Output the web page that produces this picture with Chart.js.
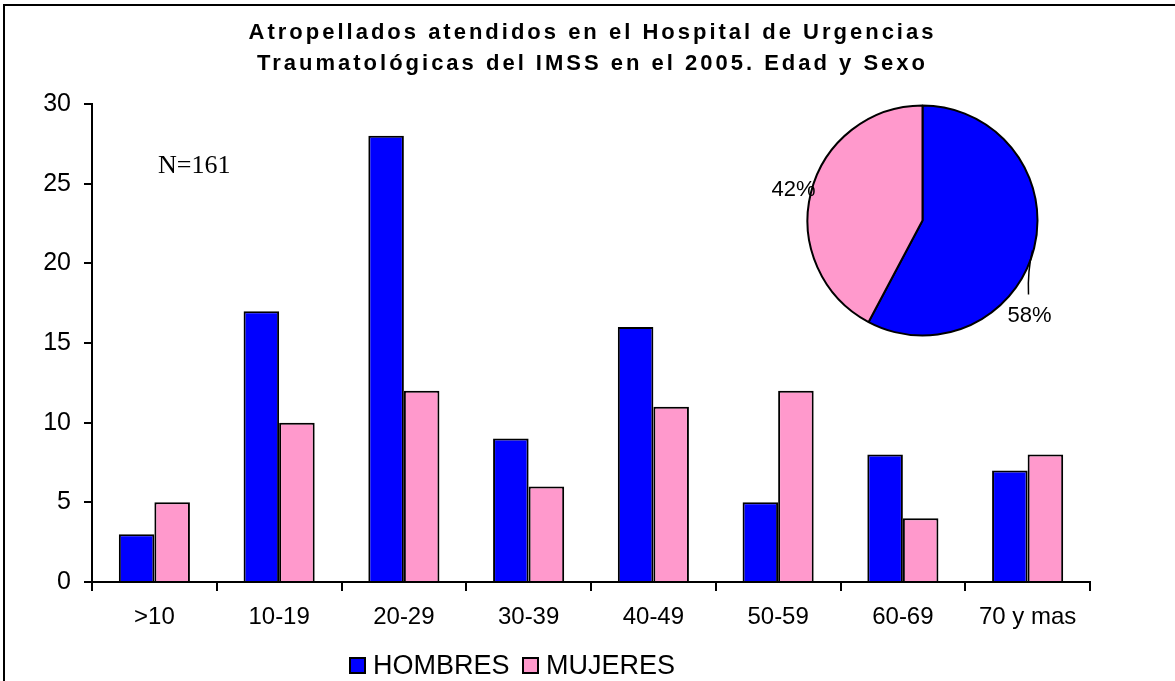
<!DOCTYPE html>
<html><head><meta charset="utf-8">
<script src="https://cdn.jsdelivr.net/npm/chart.js@4.4.1/dist/chart.umd.min.js"></script>
<style>
html,body{margin:0;padding:0;background:#fff;overflow:hidden}
#wrap{position:relative;width:1175px;height:681px}
#bar{position:absolute;left:0;top:0}
#pie{position:absolute;left:760px;top:90px}
</style></head><body>
<div id="wrap"><canvas id="bar" width="1175" height="681"></canvas><canvas id="pie" width="330" height="270"></canvas></div>
<script>
const titleLines = ['Atropellados atendidos en el Hospital de Urgencias', 'Traumatológicas del IMSS en el 2005. Edad y Sexo'];
const categories = ['>10', '10-19', '20-29', '30-39', '40-49', '50-59', '60-69', '70 y mas'];
const hombres = [3, 17, 28, 9, 16, 5, 8, 7];
const mujeres = [5, 10, 12, 6, 11, 12, 4, 8];
const seriesNames = ['HOMBRES', 'MUJERES'];
const seriesColors = ['#0000FF', '#FF99CC'];
const yTickValues = [0, 5, 10, 15, 20, 25, 30];
const pieTotals = [hombres.reduce((a, b) => a + b, 0), mujeres.reduce((a, b) => a + b, 0)];
const pieLabels = ['58%', '42%'];
const noteText = 'N=161';

const SANS = '"Liberation Sans", Arial, sans-serif';

const decorPlugin = {
  id: 'decor',
  afterDraw(chart) {
    const ctx = chart.ctx;
    ctx.save();
    // outer frame
    ctx.strokeStyle = '#000';
    ctx.lineWidth = 2;
    ctx.strokeRect(4, 5, 1400, 1000);
    // title
    ctx.fillStyle = '#000';
    ctx.font = 'bold 22px ' + SANS;
    ctx.letterSpacing = '3px';
    ctx.textAlign = 'left';
    ctx.textBaseline = 'alphabetic';
    const ys = [39, 70];
    titleLines.forEach((t, i) => {
      const w = ctx.measureText(t).width - 3;
      ctx.fillText(t, 591 - w / 2, ys[i]);
    });
    ctx.letterSpacing = '0px';
    // note
    ctx.font = '26px "Liberation Serif", "Times New Roman", serif';
    ctx.fillText(noteText, 158, 173);
    // legend
    ctx.font = '27px ' + SANS;
    ctx.textBaseline = 'middle';
    const boxX = [350, 523];
    const textX = [373, 546];
    seriesNames.forEach((n, i) => {
      ctx.fillStyle = seriesColors[i];
      ctx.fillRect(boxX[i], 658, 15, 15);
      ctx.lineWidth = 2;
      ctx.strokeStyle = '#000';
      ctx.strokeRect(boxX[i], 658, 15, 15);
      ctx.fillStyle = '#000';
      ctx.fillText(n, textX[i], 667);
    });
    ctx.restore();
  }
};

new Chart(document.getElementById('bar'), {
  type: 'bar',
  data: {
    labels: categories,
    datasets: [
      { label: seriesNames[0], data: hombres, backgroundColor: seriesColors[0], borderColor: '#000', borderWidth: 2 },
      { label: seriesNames[1], data: mujeres, backgroundColor: seriesColors[1], borderColor: '#000', borderWidth: 2 }
    ]
  },
  options: {
    responsive: false,
    animation: false,
    devicePixelRatio: 1,
    layout: { padding: { top: 104, right: 85, left: 0, bottom: 0 } },
    datasets: { bar: { categoryPercentage: 0.57, barPercentage: 1.0 } },
    plugins: { legend: { display: false }, title: { display: false }, tooltip: { enabled: false } },
    scales: {
      x: {
        grid: { display: true, drawOnChartArea: false, offset: true, tickLength: 9, color: '#000', lineWidth: 2 },
        border: { display: true, color: '#000', width: 2 },
        ticks: { color: '#000', font: { family: SANS, size: 24 }, padding: 12, maxRotation: 0, autoSkip: false },
        afterFit: s => { s.height = 99; }
      },
      y: {
        min: 0, max: 30,
        afterBuildTicks: s => { s.ticks = yTickValues.map(v => ({ value: v })); },
        grid: { display: true, drawOnChartArea: false, tickLength: 8, color: '#000', lineWidth: 2 },
        border: { display: true, color: '#000', width: 2 },
        ticks: { color: '#000', font: { family: SANS, size: 25 }, padding: 13 },
        afterFit: s => { s.width = 92; }
      }
    }
  },
  plugins: [decorPlugin]
});

const pieLabelPlugin = {
  id: 'pieLabels',
  afterDraw(chart) {
    const ctx = chart.ctx;
    const arc = chart.getDatasetMeta(0).data[0];
    const cx = arc.x, cy = arc.y;
    ctx.save();
    ctx.fillStyle = '#000';
    ctx.font = '22px ' + SANS;
    ctx.textBaseline = 'alphabetic';
    ctx.textAlign = 'left';
    ctx.fillText(pieLabels[0], cx + 85, cy + 101);
    ctx.textAlign = 'right';
    ctx.fillText(pieLabels[1], cx - 107, cy - 25);
    ctx.strokeStyle = '#000';
    ctx.lineWidth = 1.5;
    ctx.beginPath();
    ctx.moveTo(cx + 110, cy + 30);
    ctx.quadraticCurveTo(cx + 105, cy + 50, cx + 106, cy + 74);
    ctx.stroke();
    ctx.restore();
  }
};

new Chart(document.getElementById('pie'), {
  type: 'pie',
  data: {
    labels: seriesNames,
    datasets: [{ data: pieTotals, backgroundColor: seriesColors, borderColor: '#000', borderWidth: 2 }]
  },
  options: {
    responsive: false,
    animation: false,
    devicePixelRatio: 1,
    radius: 115,
    layout: { padding: { left: 42.5, top: 10.5, right: 47.5, bottom: 19.5 } },
    plugins: { legend: { display: false }, tooltip: { enabled: false } }
  },
  plugins: [pieLabelPlugin]
});
</script>
</body></html>
